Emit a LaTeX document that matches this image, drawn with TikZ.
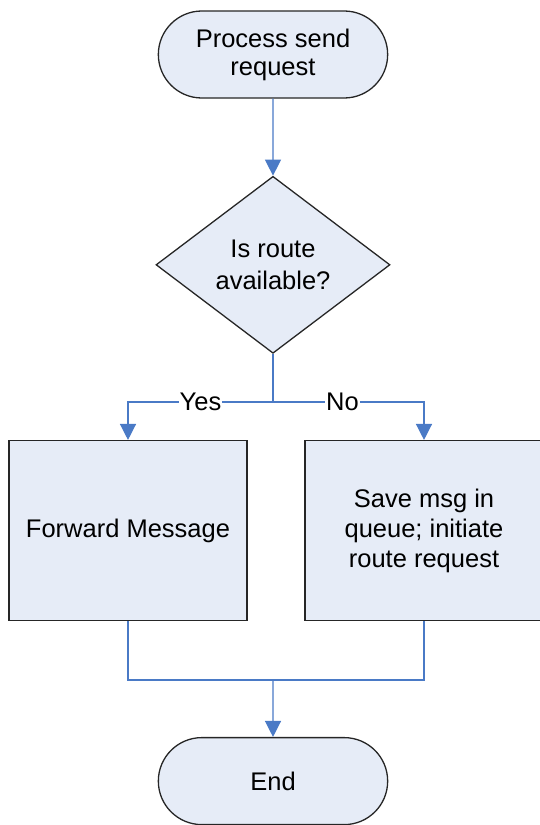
\documentclass[tikz,border=0pt]{standalone}
\usepackage{fontspec}
\setmainfont{Liberation Sans}
\usetikzlibrary{positioning,shapes.geometric,shapes.misc,arrows.meta}
\definecolor{boxfill}{HTML}{E6ECF7}
\definecolor{flowblue}{HTML}{4A7AC6}
\tikzset{
  terminal/.style={rounded rectangle, draw=black!85, line width=1.3pt, fill=boxfill,
    minimum width=236pt, minimum height=87pt, align=center, font=\fontsize{25.5}{28}\selectfont},
  decision/.style={diamond, draw=black!85, line width=1.3pt, fill=boxfill, aspect=1.32,
    inner sep=0pt, minimum width=234pt, minimum height=177pt, align=center, font=\fontsize{25.5}{32}\selectfont},
  process/.style={rectangle, draw=black!85, line width=1.3pt, fill=boxfill,
    minimum width=238pt, minimum height=180pt, align=center, font=\fontsize{25.5}{30}\selectfont},
  flow/.style={draw=flowblue, line width=1.3pt, -{Triangle[width=16pt,length=16pt]}},
  link/.style={draw=flowblue, line width=1.3pt},
  lbl/.style={fill=white, inner sep=1pt, font=\fontsize{25.5}{28}\selectfont}
}
\begin{document}
\begin{tikzpicture}
  \useasboundingbox (0,0) rectangle (540pt,-825pt);
  \node (start)[terminal] at (273pt,-54.5pt) {Process send\\request};
  \node (avail)[decision, below=77pt of start] {Is route\\available?};
  \coordinate[below=48pt of avail] (split);
  \node (fwd)[process, below=38pt of split, xshift=-145pt] {Forward Message};
  \node (save)[process, below=38pt of split, xshift=151pt] {Save msg in\\queue; initiate\\route request};
  \coordinate[below=278pt of split] (join);
  \node (end)[terminal, below=57pt of join] {End};
  \draw[flow] (start) to (avail);
  \draw[link] (avail) to (split);
  \draw[flow] (split) -| node[lbl, pos=0.25] {Yes} (fwd);
  \draw[flow] (split) -| node[lbl, pos=0.23] {No} (save);
  \draw[link] (fwd) |- (join);
  \draw[link] (save) |- (join);
  \draw[flow] (join) to (end);
\end{tikzpicture}
\end{document}
